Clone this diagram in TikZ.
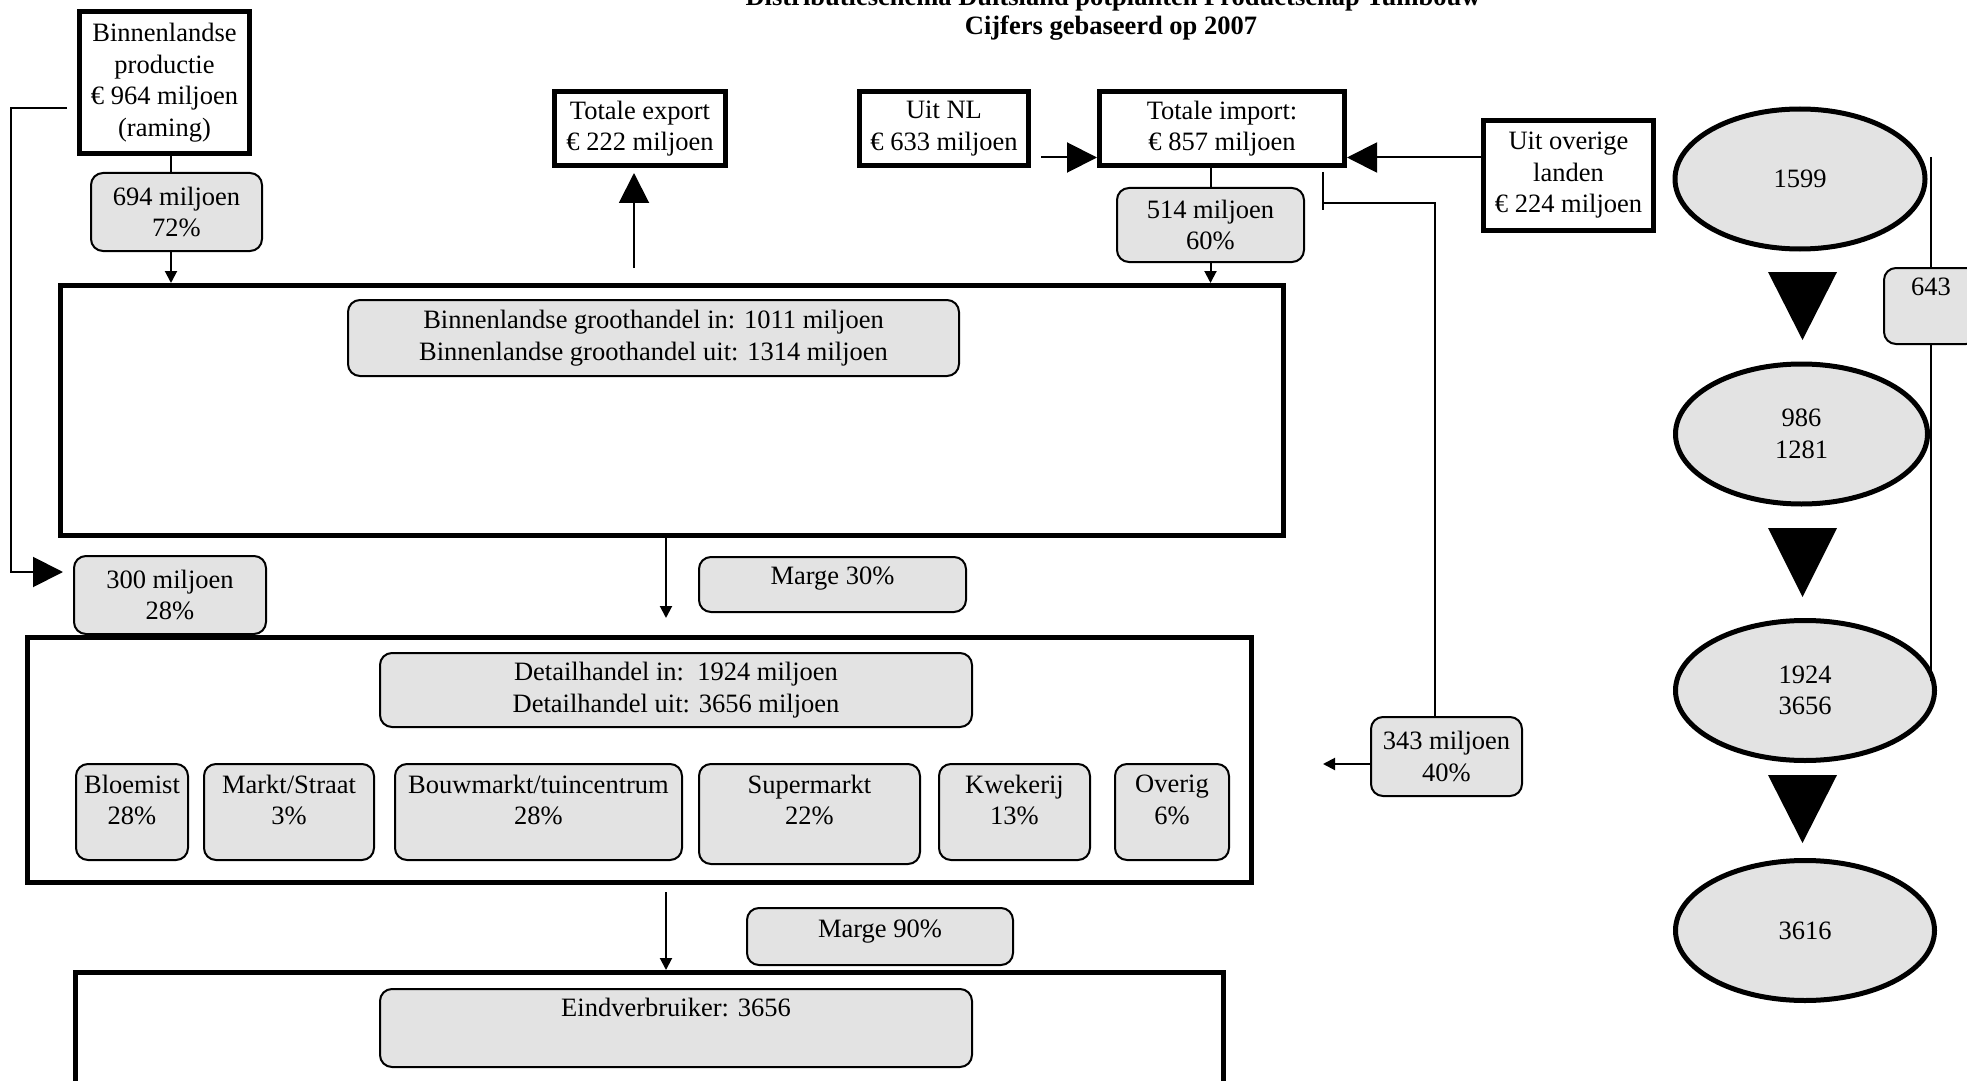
\documentclass[tikz,border=0pt]{standalone}
\usepackage{fontspec}
\setmainfont{Liberation Serif}
\usetikzlibrary{arrows.meta,shapes.geometric,calc}
\definecolor{boxgray}{RGB}{227,227,227}
\newcommand{\tbx}[4]{\parbox[c][#2][t]{#1}{\centering\vspace*{#3}#4\par}}
\begin{document}
\begin{tikzpicture}[x=0.5pt,y=-0.5pt,
  txt/.style={font=\fontsize{13.25pt}{15.75pt}\selectfont},
  thickbox/.style={txt, draw, line width=2.5pt, fill=white, align=center, inner sep=0pt},
  graybox/.style={txt, draw, line width=1pt, fill=boxgray, rounded corners=6pt, inner sep=0pt},
  gc/.style={graybox, align=center},
  ell/.style={txt, ellipse, draw, line width=2.5pt, fill=boxgray, align=center, inner sep=0pt, minimum width=125pt, minimum height=70pt},
  conn/.style={line width=1pt},
  bigarrow/.style={conn, -{Triangle[length=15pt,width=15pt]}},
  smallarrow/.style={conn, -{Triangle[length=6pt,width=6pt]}},
  titlefont/.style={font=\bfseries\fontsize{13.25pt}{15pt}\selectfont}
]
\useasboundingbox (0,0) rectangle (1967,1081);
\clip (0,0) rectangle (1967,1081);

% title
\node[titlefont, anchor=base, inner sep=0pt] (title1) at (1113,6) {Distributieschema Duitsland potplanten Productschap Tuinbouw};
\node[titlefont, anchor=base, inner sep=0pt] (title2) at (1111,35) {Cijfers gebaseerd op 2007};

% big frames
\node[thickbox, minimum width=611.5pt, minimum height=125pt] (groot) at (672,410.5) {};
\node[thickbox, minimum width=612pt, minimum height=122.5pt] (detail) at (639.5,760) {};
\node[thickbox, minimum width=574pt, minimum height=55.5pt] (eind) at (649.5,1028) {};

% top boxes
\node[thickbox, minimum width=85pt, minimum height=71pt] (prod) at (164.5,82.5) {Binnenlandse\\productie\\€ 964 miljoen\\(raming)};
\node[thickbox, minimum width=85.5pt, minimum height=37pt] (export) at (640,128.5) {Totale export\\€ 222 miljoen};
\node[thickbox, minimum width=84.5pt, minimum height=37pt] (uitnl) at (944,128.5) {Uit NL\\€ 633 miljoen};
\node[thickbox, minimum width=122.5pt, minimum height=37pt] (import) at (1222,128.5) {Totale import:\\€ 857 miljoen};
\node[thickbox, minimum width=85pt, minimum height=55pt] (overige) at (1568.5,175.5) {Uit overige\\landen\\€ 224 miljoen};

% grey boxes
\node[gc, minimum width=85.5pt, minimum height=39pt] (b694) at (176.5,212) {694 miljoen\\72\%};
\node[gc, minimum width=93.5pt, minimum height=37pt] (b514) at (1210.5,225) {514 miljoen\\60\%};
\node[gc, minimum width=305.5pt, minimum height=38pt] (grootin) at (653.5,338) {Binnenlandse groothandel in: 1011 miljoen\\Binnenlandse groothandel uit: 1314 miljoen};
\node[gc, minimum width=96pt, minimum height=39pt] (b300) at (170,595) {300 miljoen\\28\%};
\node[graybox] (marge30) at (832.5,584.5) {\tbx{133.5pt}{27.5pt}{5pt}{Marge 30\%}};
\node[gc, minimum width=296pt, minimum height=37pt] (detin) at (676,690) {Detailhandel in:\ \ 1924 miljoen\\Detailhandel uit: 3656 miljoen};
\node[graybox] (bloemist) at (132,812) {\tbx{56pt}{48pt}{5.5pt}{Bloemist\\28\%}};
\node[graybox] (markt) at (289,812) {\tbx{85pt}{48pt}{5.5pt}{Markt/Straat\\3\%}};
\node[graybox] (bouw) at (538.5,812) {\tbx{143.5pt}{48pt}{5.5pt}{Bouwmarkt/tuincentrum\\28\%}};
\node[graybox] (super) at (809.5,814) {\tbx{110.5pt}{50pt}{5.5pt}{Supermarkt\\22\%}};
\node[graybox] (kwek) at (1014.5,812) {\tbx{75.5pt}{48pt}{5.5pt}{Kwekerij\\13\%}};
\node[graybox] (overig) at (1172,812) {\tbx{57pt}{48pt}{5.5pt}{Overig\\6\%}};
\node[graybox] (marge90) at (880,936.5) {\tbx{133pt}{28.5pt}{6pt}{Marge 90\%}};
\node[graybox] (eindin) at (676,1028) {\tbx{296pt}{39pt}{4.5pt}{Eindverbruiker: 3656}};
\node[gc, minimum width=75.5pt, minimum height=39.5pt] (b343) at (1446.5,756.5) {343 miljoen\\40\%};

% right column
\coordinate (v1) at (1931,157);
\coordinate (v2) at (1931,681);
\node[ell] (e1) at (1800,179) {1599};
\node[ell, minimum width=126pt] (e2) at (1801.5,434) {986\\1281};
\node[ell, minimum width=129.5pt] (e3) at (1805,690.5) {1924\\3656};
\node[ell, minimum width=129.5pt] (e4) at (1805,930.5) {3616};
\fill (1768,272) -- (1837,272) -- (1802.5,340) -- cycle;
\fill (1768,528) -- (1837,528) -- (1802.5,597) -- cycle;
\fill (1768,775) -- (1837,775) -- (1802.5,843) -- cycle;
\node[graybox] (b643) at (1931,306) {\tbx{47pt}{38pt}{5pt}{643}};
\draw[conn] (v1) -- (b643.north);
\draw[conn] (b643.south) -- (v2);

% connectors
\draw[conn] ([xshift=-2.75pt]b694.north) -- ([xshift=-2.75pt]b694.north |- prod.south);
\draw[smallarrow] ([xshift=-2.75pt]b694.south) -- ([xshift=-2.75pt]b694.south |- groot.north);
\draw[bigarrow, shorten <=7.5pt, shorten >=2.5pt] ([xshift=-3pt]export.south |- groot.north) -- ([xshift=-3pt]export.south);
\draw[bigarrow] ([shift={(5pt,5.25pt)}]uitnl.south east) -- ([yshift=5.25pt]import.south west);
\draw[bigarrow] ([yshift=5.25pt]overige.west |- import.south east) -- ([yshift=5.25pt]import.south east);
\draw[conn] (b514.north) -- (b514.north |- import.south);
\draw[smallarrow] (b514.south) -- (b514.south |- groot.north);

\coordinate (tkA) at (1323,172);
\coordinate (tkB) at (1323,210);
\coordinate (tkM) at (1323,203);
\draw[conn] (tkA) -- (tkB);
\draw[conn] (tkM) -| ([xshift=-5.75pt]b343.north);
\coordinate (ret) at (1323,764);
\draw[smallarrow] (b343.west |- ret) -- (ret);

\coordinate (lp1) at (67,108);
\coordinate (lp2) at (11,108);
\draw[bigarrow] (lp1) -- (lp2) |- ([shift={(-5pt,11.5pt)}]b300.west);

\draw[smallarrow, shorten >=8.5pt] ([xshift=-3pt]groot.south) -- ([xshift=-3pt]groot.south |- detail.north);
\draw[smallarrow, shorten <=3.5pt] ([xshift=-3pt]groot.south |- detail.south) -- ([xshift=-3pt]groot.south |- eind.north);
\end{tikzpicture}
\end{document}
